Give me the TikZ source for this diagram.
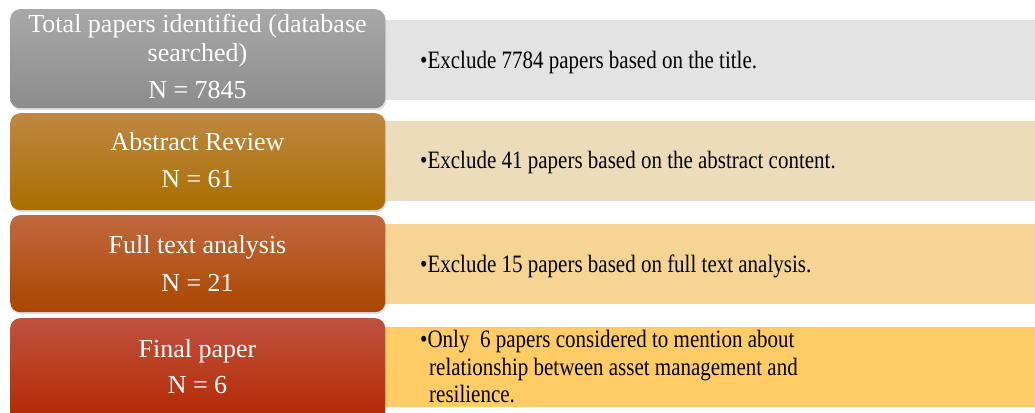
\documentclass[tikz,border=0pt]{standalone}
\usepackage{fontspec}
\setmainfont{Liberation Serif}
\newfontfamily\narrowserif[FakeStretch=0.84]{Liberation Serif}
\usetikzlibrary{shadows}
\definecolor{gtop}{RGB}{168,168,168}
\definecolor{gbot}{RGB}{140,140,140}
\definecolor{otop}{RGB}{190,136,66}
\definecolor{obot}{RGB}{170,110,0}
\definecolor{rtop}{RGB}{192,104,62}
\definecolor{rbot}{RGB}{170,70,0}
\definecolor{dtop}{RGB}{192,82,64}
\definecolor{dbot}{RGB}{178,40,0}
\definecolor{barA}{RGB}{227,227,227}
\definecolor{barB}{RGB}{237,220,185}
\definecolor{barC}{RGB}{245,212,148}
\definecolor{barD}{RGB}{255,204,102}
\begin{document}
\begin{tikzpicture}[x=1pt,y=-1pt,
  bar/.style={fill=#1, draw=none, inner sep=0pt, minimum width=651pt, minimum height=80pt, anchor=north west},
  stagebox/.style n args={3}{rounded corners=10pt, top color=#1, bottom color=#2, draw=none, inner sep=0pt,
     minimum width=375pt, minimum height=#3, anchor=north west,
     drop shadow={opacity=0.25, shadow xshift=1pt, shadow yshift=-2pt}},
  ltext/.style={text=white, font=\fontsize{26}{29}\selectfont, anchor=base, inner sep=0pt},
  rtext/.style={font=\narrowserif\fontsize{25}{28}\selectfont, anchor=base west, inner sep=0pt}]
\useasboundingbox (0,0) rectangle (1035,412);
\clip (0,0) rectangle (1035,412);
% bars
\node[bar=barA] (barA) at (384,20) {};
\node[bar=barB] (barB) at (384,121) {};
\node[bar=barC] (barC) at (384,224) {};
\node[bar=barD] (barD) at (384,327) {};
% stage boxes
\node[stagebox={gtop}{gbot}{99pt}] (s1) at (10,9) {};
\node[stagebox={otop}{obot}{97pt}] (s2) at (10,113) {};
\node[stagebox={rtop}{rbot}{97pt}] (s3) at (10,215) {};
\node[stagebox={dtop}{dbot}{104pt}] (s4) at (10,318) {};
% left texts
\node[ltext] (t1a) at (197.5,33) {Total papers identified (database};
\node[ltext] (t1b) at (197.5,62) {searched)};
\node[ltext] (t1c) at (197.5,98) {N = 7845};
\node[ltext] (t2a) at (197.5,150) {Abstract Review};
\node[ltext] (t2b) at (197.5,187) {N = 61};
\node[ltext] (t3a) at (197.5,253) {Full text analysis};
\node[ltext] (t3b) at (197.5,291) {N = 21};
\node[ltext] (t4a) at (197.5,357) {Final paper};
\node[ltext] (t4b) at (197.5,393) {N = 6};
% right texts
\node[rtext] (r1) at (420,68) {•Exclude 7784 papers based on the title.};
\node[rtext] (r2) at (420,168) {•Exclude 41 papers based on the abstract content.};
\node[rtext] (r3) at (420,272) {•Exclude 15 papers based on full text analysis.};
\node[rtext] (r4a) at (420,347) {•Only\ \ 6 papers considered to mention about};
\node[rtext] (r4b) at (429,375) {relationship between asset management and};
\node[rtext] (r4c) at (429,402) {resilience.};
\end{tikzpicture}
\end{document}
